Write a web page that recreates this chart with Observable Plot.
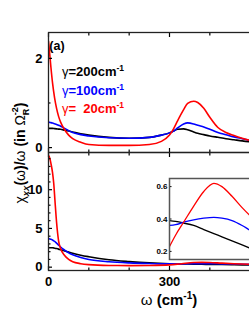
<!DOCTYPE html>
<html><head><meta charset="utf-8">
<script src="https://cdn.jsdelivr.net/npm/d3@7"></script>
<script src="https://cdn.jsdelivr.net/npm/@observablehq/plot@0.6"></script>
<style>
body{margin:0;overflow:hidden;background:#fff;}
#c{position:relative;width:249px;height:323px;overflow:hidden;background:#fff;}
#c svg{position:absolute;left:0;top:0;}
text,tspan{white-space:pre;}
</style></head><body><div id="c"></div>
<script>
// ---- data ----
const omegaTop = [0,3,6,10,15,20,25,30,40,50,60,80,100,150,200,250,280,300,310,320,335,345,360,370,385,400,420,440,460,480,500,550,600];
const topRed   = [2.38,2.1,1.8,1.45,1.12,0.88,0.7,0.57,0.4,0.28,0.2,0.12,0.07,0.05,0.05,0.07,0.14,0.28,0.42,0.6,0.85,0.99,1.04,1.01,0.88,0.68,0.45,0.34,0.27,0.21,0.16,0.1,0.07];
const topBlue  = [0.57,0.565,0.56,0.55,0.535,0.52,0.5,0.48,0.43,0.38,0.34,0.29,0.26,0.22,0.21,0.23,0.28,0.33,0.37,0.44,0.53,0.555,0.53,0.5,0.46,0.41,0.34,0.29,0.24,0.2,0.16,0.11,0.08];
const topBlack = [0.43,0.43,0.43,0.43,0.425,0.42,0.415,0.41,0.39,0.37,0.35,0.31,0.28,0.23,0.21,0.23,0.28,0.33,0.37,0.41,0.42,0.4,0.35,0.32,0.29,0.26,0.23,0.2,0.175,0.15,0.13,0.1,0.08];

const omegaBot = [0,3,6,10,13,16,20,25,30,40,50,60,80,100,150,200,250,300,330,360,380,400,430,460,500,550,600];
const botRed   = [14.4,14.1,13.4,12.2,10.8,8.6,5.8,3.4,2.4,1.5,1.0,0.7,0.45,0.33,0.22,0.2,0.22,0.3,0.45,0.6,0.62,0.6,0.52,0.45,0.38,0.32,0.28];
const botBlue  = [3.7,3.65,3.6,3.5,3.4,3.3,3.1,2.85,2.6,2.2,1.85,1.6,1.25,1.0,0.7,0.55,0.47,0.43,0.43,0.44,0.45,0.45,0.43,0.41,0.36,0.3,0.26];
const botBlack = [2.5,2.5,2.5,2.5,2.48,2.45,2.4,2.33,2.25,2.1,1.95,1.8,1.55,1.35,0.95,0.72,0.55,0.45,0.42,0.39,0.37,0.36,0.34,0.32,0.28,0.25,0.22];

const omegaIn = [250,265,285,310,335,360,380,405,430,450,480,520,550];
const inRed   = [0.23,0.3,0.38,0.48,0.57,0.62,0.6,0.54,0.47,0.42,0.36,0.3,0.27];
const inBlue  = [0.36,0.365,0.38,0.395,0.405,0.41,0.405,0.39,0.36,0.33,0.29,0.25,0.23];
const inBlack = [0.39,0.385,0.375,0.36,0.335,0.31,0.29,0.265,0.24,0.22,0.19,0.16,0.14];

const xMajor = [0,300,600];
const xLabels = [0,300];
const xMinor = [100,200,400,500];
const topYLabels = [0,2];
const topYMinor = [1];
const botYLabels = [0,5,10];
const botYMinor = [1,2,3,4,6,7,8,9,11,12,13,14];
const inYLabels = [0.2,0.4,0.6];

const legend = [
  {g:"γ", t:"=200cm", color:"#000000"},
  {g:"γ", t:"=100cm", color:"#0000ff"},
  {g:"γ", t:"=  20cm", color:"#ff0000"}
];
const colors = {red:"#ff0000", blue:"#0000ff", black:"#000000"};

// ---- build ----
const W = 300, H = 323;
const FONT = "'Liberation Sans', Arial, Helvetica, sans-serif";
const baseStyle = {fontFamily: FONT, fontWeight: "bold", fontSize: "13px", background: "transparent", maxWidth: "none", overflow: "visible", color: "#000"};
const TXT = {fontFamily: FONT, fontWeight: "bold", fontSize: 13};

function rows(xs, series) {
  return xs.map((w, i) => {
    const r = {w};
    for (const k in series) r[k] = series[k][i];
    return r;
  });
}
function lines(data, sw) {
  return ["black","blue","red"].map(k => Plot.lineY(data, {x: "w", y: k, stroke: colors[k], strokeWidth: sw, curve: "monotone-x", clip: true}));
}
function xTicks(anchor) {
  return [
    Plot.axisX(xMajor, {anchor, tickSize: -4, tickFormat: () => "", label: null, strokeWidth: 1.2}),
    Plot.axisX(xMinor, {anchor, tickSize: -2.5, tickFormat: () => "", label: null, strokeWidth: 1.2})
  ];
}

const topData = rows(omegaTop, {red: topRed, blue: topBlue, black: topBlack});
const botData = rows(omegaBot, {red: botRed, blue: botBlue, black: botBlack});
const inData  = rows(omegaIn,  {red: inRed, blue: inBlue, black: inBlack});

const topPlot = Plot.plot({
  width: W, height: H,
  marginLeft: 48, marginRight: 10, marginTop: 32, marginBottom: H - 152,
  x: {domain: [0, 600]}, y: {domain: [-0.11, 2.58]},
  style: baseStyle,
  marks: [
    ...lines(topData, 1.6),
    Plot.axisY(topYLabels, {anchor: "left", tickSize: -4, tickPadding: 10, tickFormat: d3.format("d"), label: null, strokeWidth: 1.2, ...TXT}),
    Plot.axisY(topYMinor, {anchor: "left", tickSize: -2.5, tickFormat: () => "", label: null, strokeWidth: 1.2}),
    ...xTicks("bottom"), ...xTicks("top"),
    Plot.frame({stroke: "#222", strokeWidth: 1.3})
  ]
});

const botPlot = Plot.plot({
  width: W, height: H,
  marginLeft: 48, marginRight: 10, marginTop: 152, marginBottom: H - 270,
  x: {domain: [0, 600]}, y: {domain: [-0.43, 14.8]},
  style: baseStyle,
  marks: [
    ...lines(botData, 1.6),
    Plot.axisY(botYLabels, {anchor: "left", tickSize: -4, tickPadding: 10, tickFormat: d3.format("d"), label: null, strokeWidth: 1.2, ...TXT}),
    Plot.axisY(botYMinor, {anchor: "left", tickSize: -2.5, tickFormat: () => "", label: null, strokeWidth: 1.2}),
    Plot.axisX(xLabels, {anchor: "bottom", tickSize: 0, tickPadding: 6, tickFormat: d3.format("d"), label: null, ...TXT}),
    ...xTicks("bottom"), ...xTicks("top"),
    Plot.frame({stroke: "#222", strokeWidth: 1.3})
  ]
});

const inPlot = Plot.plot({
  width: W, height: H,
  marginLeft: 169, marginRight: 10, marginTop: 178, marginBottom: H - 259,
  x: {domain: [250, 550], axis: null}, y: {domain: [0.15, 0.65]},
  style: {...baseStyle, fontSize: "8px"},
  marks: [
    Plot.frame({fill: "white", stroke: "none"}),
    ...lines(inData, 1.3),
    Plot.axisY(inYLabels, {anchor: "left", tickSize: -2.5, tickPadding: 4.5, tickFormat: d3.format(".1f"), label: null, strokeWidth: 1, fontFamily: FONT, fontWeight: "bold", fontSize: 8}),
    Plot.frame({stroke: "#555", strokeWidth: 1.5})
  ]
});

const c = document.getElementById("c");
c.append(botPlot, topPlot, inPlot);

// ---- rich text (titles, legend) ----
const tsvg = d3.select(topPlot);
tsvg.append("text").attr("x", 57).attr("y", 50)
  .attr("font-family", FONT).attr("font-weight", "bold").attr("font-size", 12.5).text("(a)");
legend.forEach((d, i) => {
  const t = tsvg.append("text").attr("x", 93).attr("y", 76 + i * 18.5)
    .attr("font-family", FONT).attr("font-size", 13).attr("fill", d.color);
  t.append("tspan").attr("font-weight", "normal").text(d.g);
  t.append("tspan").attr("font-weight", "bold").text(d.t);
  t.append("tspan").attr("font-weight", "bold").attr("font-size", 8.5).attr("dy", -5).text("-1");
});

const bsvg = d3.select(botPlot);
const xt = bsvg.append("text").attr("x", 169).attr("y", 305).attr("text-anchor", "middle")
  .attr("font-family", FONT).attr("font-size", 15).attr("font-weight", "bold").attr("fill", "#000");
xt.append("tspan").attr("font-weight", "normal").text("ω ");
xt.append("tspan").text("(cm");
xt.append("tspan").attr("font-size", 10).attr("dy", -6).text("-1");
xt.append("tspan").attr("dy", 6).text(")");

const yt = bsvg.append("text").attr("transform", "translate(25,153) rotate(-90)").attr("text-anchor", "middle")
  .attr("font-family", FONT).attr("font-size", 14).attr("font-weight", "bold").attr("fill", "#000");
yt.append("tspan").attr("font-weight", "normal").text("χ");
yt.append("tspan").attr("font-size", 9.5).attr("font-style", "italic").attr("dy", 4).text("xx");
yt.append("tspan").attr("dy", -4).text("(");
yt.append("tspan").attr("font-weight", "normal").text("ω");
yt.append("tspan").text(")/");
yt.append("tspan").attr("font-weight", "normal").text("ω");
yt.append("tspan").text(" (in ");
yt.append("tspan").attr("font-weight", "normal").text("Ω");
yt.append("tspan").attr("font-size", 9).attr("dy", 4).text("R");
yt.append("tspan").attr("font-size", 9).attr("dx", -6.5).attr("dy", -11).text("-2");
yt.append("tspan").attr("dy", 7).text(")");
</script></body></html>
